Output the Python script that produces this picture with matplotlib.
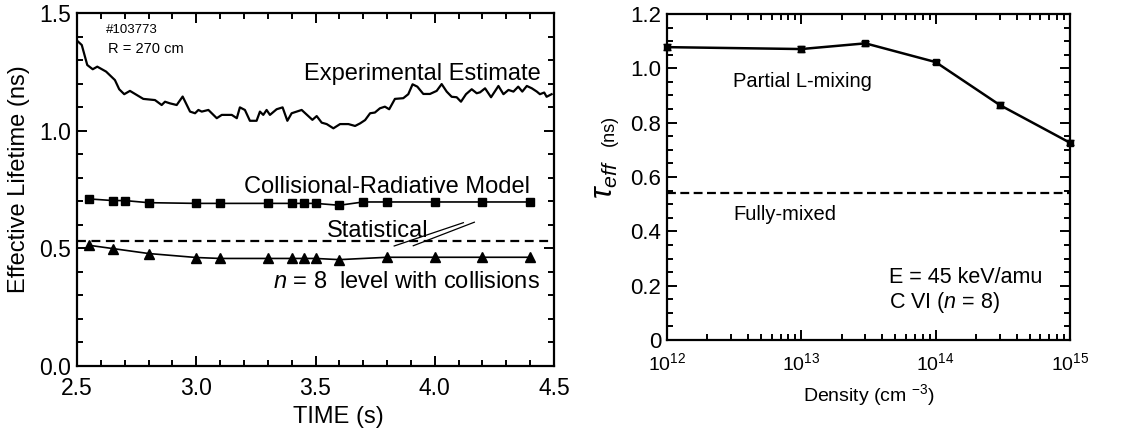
import math
import matplotlib
matplotlib.use("Agg")
import matplotlib.pyplot as plt
from matplotlib.ticker import MultipleLocator, LogLocator, NullFormatter, FuncFormatter

plt.rcParams.update({
    "font.family": "Liberation Sans",
    "mathtext.fontset": "custom",
    "mathtext.rm": "Liberation Sans",
    "mathtext.it": "Liberation Sans:italic",
    "axes.linewidth": 1.6,
})

# left panel: experimental estimate, shot #103773
exp_time = [2.505, 2.52, 2.543, 2.566, 2.585, 2.622, 2.659, 2.677, 2.698, 2.722,
            2.778, 2.827, 2.855, 2.869, 2.89, 2.918, 2.943, 2.974, 2.995, 3.009,
            3.023, 3.051, 3.086, 3.107, 3.149, 3.17, 3.183, 3.204, 3.225, 3.253,
            3.267, 3.281, 3.295, 3.309, 3.337, 3.362, 3.382, 3.40, 3.442, 3.487,
            3.505, 3.526, 3.547, 3.575, 3.603, 3.638, 3.666, 3.687, 3.708, 3.729,
            3.749, 3.770, 3.791, 3.809, 3.833, 3.868, 3.889, 3.907, 3.927, 3.952,
            3.98, 4.008, 4.029, 4.05, 4.071, 4.092, 4.110, 4.131, 4.155, 4.176,
            4.19, 4.211, 4.236, 4.267, 4.288, 4.309, 4.33, 4.35, 4.367, 4.386,
            4.407, 4.428, 4.441, 4.459, 4.469, 4.49]
exp_tau = [1.378, 1.364, 1.279, 1.261, 1.272, 1.251, 1.215, 1.176, 1.155, 1.169,
           1.135, 1.130, 1.109, 1.123, 1.116, 1.109, 1.145, 1.081, 1.074, 1.088,
           1.081, 1.088, 1.053, 1.067, 1.067, 1.053, 1.099, 1.088, 1.042, 1.042,
           1.081, 1.067, 1.088, 1.067, 1.091, 1.099, 1.042, 1.074, 1.088, 1.046,
           1.062, 1.034, 1.028, 1.010, 1.028, 1.028, 1.020, 1.031, 1.045, 1.074,
           1.077, 1.095, 1.102, 1.091, 1.135, 1.138, 1.155, 1.197, 1.187, 1.156,
           1.156, 1.169, 1.198, 1.166, 1.144, 1.142, 1.123, 1.155, 1.176, 1.159,
           1.163, 1.180, 1.142, 1.190, 1.155, 1.173, 1.166, 1.187, 1.166, 1.190,
           1.180, 1.166, 1.155, 1.162, 1.144, 1.155]

# collisional-radiative model
cr_time = [2.55, 2.65, 2.70, 2.80, 3.00, 3.10, 3.30, 3.40, 3.45, 3.50, 3.60,
           3.70, 3.80, 4.00, 4.20, 4.40]
cr_tau = [0.710, 0.703, 0.703, 0.694, 0.691, 0.691, 0.691, 0.691, 0.691, 0.691,
          0.683, 0.697, 0.697, 0.697, 0.697, 0.697]

# n = 8 level with collisions
n8_time = [2.55, 2.65, 2.80, 3.00, 3.10, 3.30, 3.40, 3.45, 3.50, 3.60, 3.80,
           4.00, 4.20, 4.40]
n8_tau = [0.513, 0.499, 0.478, 0.461, 0.457, 0.457, 0.457, 0.457, 0.457, 0.452,
          0.462, 0.462, 0.462, 0.462]

statistical = 0.53

# right panel: tau_eff vs density
density = [1e12, 1e13, 3e13, 1e14, 3e14, 1e15]
tau_eff = [1.078, 1.071, 1.092, 1.023, 0.865, 0.726]
tau_err = [0.010, 0.010, 0.008, 0.008, 0.010, 0.010]
fully_mixed = 0.54

W, H = 1125, 428
fig = plt.figure(figsize=(W / 100, H / 100), dpi=100)

def px_axes(x0, x1, y0, y1):
    return fig.add_axes([x0 / W, 1 - y1 / H, (x1 - x0) / W, (y1 - y0) / H])

def style_ticks(ax):
    ax.tick_params(which="both", direction="in", top=True, right=True, width=1.4)
    ax.tick_params(which="major", length=7)
    ax.tick_params(which="minor", length=4)


# ── left panel ──
ax1 = px_axes(77, 554, 13, 366)
ax1.plot(exp_time, exp_tau, color="black", lw=1.6)
ax1.plot(cr_time, cr_tau, color="black", lw=1.2, marker="s", ms=5.5)
ax1.plot(n8_time, n8_tau, color="black", lw=1.2, marker="^", ms=7)
ax1.axhline(statistical, color="black", lw=1.6, ls=(0, (4, 2.5)))
# break marks pointing from "Statistical" to the dashed line
ax1.plot([3.83, 4.12], [0.510, 0.609], color="black", lw=0.9)
ax1.plot([3.91, 4.166], [0.511, 0.611], color="black", lw=0.9)

ax1.set_xlim(2.5, 4.5)
ax1.set_ylim(0, 1.5)
ax1.xaxis.set_major_locator(MultipleLocator(0.5))
ax1.xaxis.set_minor_locator(MultipleLocator(0.1))
ax1.yaxis.set_major_locator(MultipleLocator(0.5))
ax1.yaxis.set_minor_locator(MultipleLocator(0.1))
ax1.xaxis.set_major_formatter(FuncFormatter(lambda v, p: f"{v:.1f}"))
ax1.yaxis.set_major_formatter(FuncFormatter(lambda v, p: f"{v:.1f}"))
style_ticks(ax1)
ax1.tick_params(labelsize=16.5)
ax1.tick_params(axis="y", pad=4)
ax1.tick_params(axis="x", pad=8)

ax1.set_xlabel("TIME (s)", fontsize=17)
ax1.xaxis.set_label_coords((338 - 77) / 477, -0.113)
ax1.set_ylabel("Effective Lifetime (ns)", fontsize=17)
ax1.yaxis.set_label_coords(-0.098, 0.53)

ax1.text(4.446, 1.215, "Experimental Estimate", fontsize=17, ha="right", va="baseline")
ax1.text(4.40, 0.734, "Collisional-Radiative Model", fontsize=17, ha="right", va="baseline")
ax1.text(3.547, 0.55, "Statistical", fontsize=17, ha="left", va="baseline")
ax1.text(4.441, 0.330, r"$\mathit{n}$ = 8  level with collisions", fontsize=17,
         ha="right", va="baseline")
ax1.text(2.622, 1.415, "#103773", fontsize=9.5, ha="left", va="baseline")
ax1.text(2.63, 1.33, "R = 270 cm", fontsize=10.5, ha="left", va="baseline")


# ── right panel ──
ax2 = px_axes(667, 1070, 14, 340)
ax2.errorbar(density, tau_eff, yerr=tau_err, color="black", lw=1.8, marker="s",
             ms=5, capsize=3, elinewidth=1, clip_on=False, zorder=3)
ax2.axhline(fully_mixed, color="black", lw=1.6, ls=(0, (4, 2)))

ax2.set_xscale("log")
ax2.set_xlim(1e12, 1e15)
ax2.set_ylim(0, 1.2)
ax2.xaxis.set_major_locator(LogLocator(base=10, numticks=10))
ax2.xaxis.set_minor_locator(LogLocator(base=10, subs=range(2, 10), numticks=20))
ax2.xaxis.set_minor_formatter(NullFormatter())
ax2.xaxis.set_major_formatter(FuncFormatter(
    lambda v, p: r"$\mathregular{10^{%d}}$" % round(math.log10(v))))
ax2.yaxis.set_major_locator(MultipleLocator(0.2))
ax2.yaxis.set_minor_locator(MultipleLocator(0.05))
ax2.yaxis.set_major_formatter(FuncFormatter(
    lambda v, p: "0" if abs(v) < 1e-9 else f"{v:.1f}"))
style_ticks(ax2)
ax2.tick_params(axis="y", labelsize=16, pad=4)
ax2.tick_params(axis="x", labelsize=14, pad=8.5)

ax2.set_xlabel(r"Density (cm $^{-3}$)", fontsize=14)
ax2.xaxis.set_label_coords(0.5, -0.128)

fig.text(605 / W, 1 - 199 / H, r"$\tau_{eff}$", fontsize=22, rotation=90,
         ha="center", va="bottom")
fig.text(609 / W, 1 - 146 / H, "(ns)", fontsize=13, rotation=90,
         ha="center", va="bottom")

ax2.text(3.1e12, 0.932, "Partial L-mixing", fontsize=14.5, ha="left", va="baseline")
ax2.text(3.1e12, 0.442, "Fully-mixed", fontsize=14.5, ha="left", va="baseline")
ax2.text(4.5e13, 0.209, "E = 45 keV/amu", fontsize=15.5, ha="left", va="baseline")
ax2.text(4.5e13, 0.117, r"C VI ($\mathit{n}$ = 8)", fontsize=15.5, ha="left", va="baseline")

fig.savefig("out.png", dpi=100)
